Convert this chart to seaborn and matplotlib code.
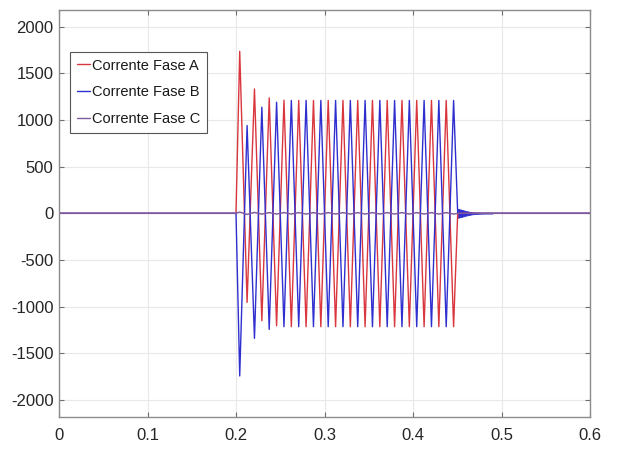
import numpy as np
import pandas as pd
import matplotlib
matplotlib.use("Agg")
import matplotlib.pyplot as plt
import seaborn as sns

# ---------------- data ----------------
series_names = ["Corrente Fase A", "Corrente Fase B", "Corrente Fase C"]
series_colors = ["#d9363e", "#2f2fd0", "#7e5a9e"]

fault_start = 0.2          # s
fault_end = 0.4505         # s
first_extremum = 0.2042    # s, first half-cycle peak after fault start
half_period = 1.0 / 120.0  # 60 Hz system

# half-cycle peak values (A)
phase_a_peaks = [1736, -955, 1333, -1151, 1237, -1205, 1212, -1215, 1210, -1215,
                 1210, -1215, 1210, -1215, 1210, -1215, 1210, -1215, 1210, -1215,
                 1210, -1215, 1210, -1215, 1210, -1215, 1210, -1215, 1210, -1215]
phase_b_peaks = [-1743, 941, -1340, 1137, -1244, 1190, -1215, 1210, -1215, 1210,
                 -1215, 1210, -1215, 1210, -1215, 1210, -1215, 1210, -1215, 1210,
                 -1215, 1210, -1215, 1210, -1215, 1210, -1215, 1210, -1215, 1210]
phase_c_peaks = [14, -12, 10, -9, 8, -8, 8, -8, 8, -8,
                 8, -8, 8, -8, 8, -8, 8, -8, 8, -8,
                 8, -8, 8, -8, 8, -8, 8, -8, 8, -8]

# post-fault ringing on phase B (envelope)
ring_times = [0.4505, 0.455, 0.460, 0.467, 0.475, 0.490]
ring_env = [48, 38, 24, 10, 4, 0]

x_ticks = [0, 0.1, 0.2, 0.3, 0.4, 0.5, 0.6]
x_tick_labels = ["0", "0.1", "0.2", "0.3", "0.4", "0.5", "0.6"]
y_ticks = [-2000, -1500, -1000, -500, 0, 500, 1000, 1500, 2000]
y_tick_labels = ["-2000", "-1500", "-1000", "-500", "0", "500", "1000", "1500", "2000"]

# ---------------- build series ----------------
def build(peaks):
    k = np.arange(len(peaks))
    t = np.concatenate([[0.0, fault_start], first_extremum + k * half_period, [fault_end, 0.6]])
    v = np.concatenate([[0.0, 0.0], peaks, [0.0, 0.0]])
    return t, v

frames = []
for name, peaks in zip(series_names, [phase_a_peaks, phase_b_peaks, phase_c_peaks]):
    t, v = build(peaks)
    frames.append(pd.DataFrame({"t": t, "i": v, "serie": name}))

# ---------------- plot ----------------
sns.set_theme(style="white")
plt.rcParams["font.family"] = ["Liberation Sans", "DejaVu Sans"]

fig = plt.figure(figsize=(6.17, 4.57), dpi=100)
ax = fig.add_axes([59 / 617, 1 - 417.3 / 457, (590 - 59) / 617, (417.3 - 10) / 457])

for df, c in zip(frames, series_colors):
    sns.lineplot(data=df, x="t", y="i", ax=ax, color=c, lw=1.0, sort=False,
                 label=df["serie"].iloc[0], estimator=None)

ring_lo = [-e for e in ring_env]
ax.fill_between(ring_times, ring_lo, ring_env, color=series_colors[1], lw=0.6,
                edgecolor=series_colors[1])

ax.set_xlim(0, 0.6)
ax.set_ylim(-2186, 2179)
ax.set_xticks(x_ticks)
ax.set_xticklabels(x_tick_labels)
ax.set_yticks(y_ticks)
ax.set_yticklabels(y_tick_labels)
ax.set_xlabel("")
ax.set_ylabel("")

ax.grid(True, color="#e8e8e8", lw=0.8)
ax.set_axisbelow(True)
for s in ax.spines.values():
    s.set_visible(True)
    s.set_color("#8c8c8c")
    s.set_linewidth(1.0)
ax.tick_params(axis="both", which="both", direction="in", length=3.5, width=0.8,
               color="#6e6e6e", labelsize=12, labelcolor="#262626",
               top=True, right=True, bottom=True, left=True)
ax.tick_params(axis="x", pad=8)
ax.tick_params(axis="y", pad=4)

leg = ax.legend(loc="upper left", bbox_to_anchor=(0.0207, 0.897), borderaxespad=0,
                fontsize=10.5, handlelength=0.95, handletextpad=0.1, labelspacing=0.88,
                borderpad=0.45, fancybox=False, framealpha=1, edgecolor="#555555")
leg.get_frame().set_linewidth(0.8)
for txt in leg.get_texts():
    txt.set_color("#1a1a1a")

fig.savefig("out.png", dpi=100, facecolor="white")
